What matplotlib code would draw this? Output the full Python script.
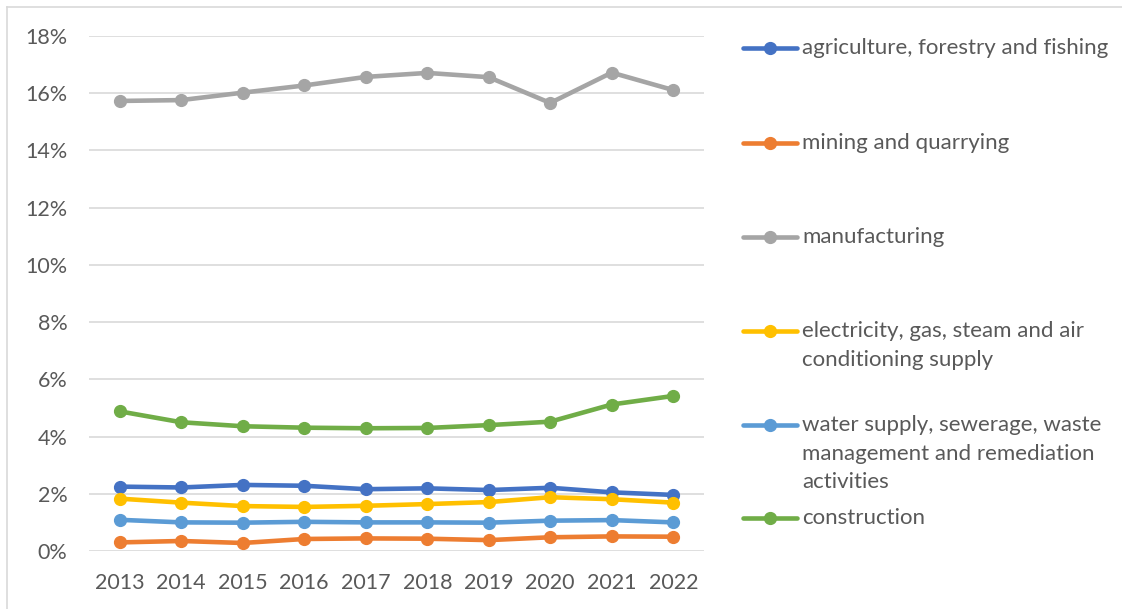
import matplotlib
matplotlib.use("Agg")
import matplotlib.pyplot as plt
from matplotlib.lines import Line2D
from matplotlib.ticker import FuncFormatter, MultipleLocator

years = ["2013", "2014", "2015", "2016", "2017", "2018", "2019", "2020", "2021", "2022"]

agriculture = [2.25, 2.22, 2.31, 2.28, 2.16, 2.19, 2.13, 2.21, 2.05, 1.96]
mining = [0.30, 0.35, 0.28, 0.42, 0.44, 0.43, 0.38, 0.48, 0.51, 0.50]
manufacturing = [15.73, 15.76, 16.02, 16.27, 16.57, 16.71, 16.56, 15.66, 16.72, 16.11]
electricity = [1.83, 1.69, 1.57, 1.54, 1.58, 1.64, 1.71, 1.88, 1.81, 1.69]
water = [1.09, 1.00, 0.99, 1.02, 1.00, 1.00, 0.99, 1.06, 1.08, 1.00]
construction = [4.88, 4.50, 4.36, 4.31, 4.29, 4.30, 4.40, 4.52, 5.12, 5.42]

series_labels = [
    "agriculture, forestry and fishing",
    "mining and quarrying",
    "manufacturing",
    "electricity, gas, steam and air\nconditioning supply",
    "water supply, sewerage, waste\nmanagement and remediation\nactivities",
    "construction",
]
series_values = [agriculture, mining, manufacturing, electricity, water, construction]
colors = ["#4472C4", "#ED7D31", "#A5A5A5", "#FFC000", "#5B9BD5", "#70AD47"]

W, H = 1122, 609
fig = plt.figure(figsize=(W / 100, H / 100), dpi=100)
fig.patch.set_facecolor("white")

FONT = "Lato"
TXT = "#595959"

ax = fig.add_axes([89 / W, 1 - 551 / H, (704 - 89) / W, (551 - 36) / H])
x = list(range(len(years)))
for vals, c in zip(series_values, colors):
    ax.plot(x, vals, color=c, lw=3.3, marker="o", markersize=8.5,
            solid_capstyle="round", zorder=3)

ax.set_xlim(-0.5, len(years) - 0.5)
ax.set_ylim(0, 18)
ax.yaxis.set_major_locator(MultipleLocator(2))
ax.yaxis.set_major_formatter(FuncFormatter(lambda v, p: f"{v:.0f}%"))
ax.set_xticks(x)
ax.set_xticklabels(years)
for s in ax.spines.values():
    s.set_visible(False)
ax.grid(axis="y", color="#D9D9D9", lw=1.2, zorder=0)
ax.tick_params(axis="both", length=0, labelsize=15.5, colors=TXT)
ax.tick_params(axis="y", pad=15.5)
ax.tick_params(axis="x", pad=15.5)
for lab in ax.get_xticklabels() + ax.get_yticklabels():
    lab.set_fontfamily(FONT)

# chart-area border (left and top edges visible)
fig.add_artist(Line2D([7 / W, 7 / W], [0, 1 - 7 / H], transform=fig.transFigure,
                      color="#D9D9D9", lw=1.2))
fig.add_artist(Line2D([7 / W, 1], [1 - 7 / H, 1 - 7 / H], transform=fig.transFigure,
                      color="#D9D9D9", lw=1.2))

# legend (manual, Excel-style spacing)
legend_y = [48, 143, 237, 331, 425, 518]
line_step = 28.5
for lab, c, yy in zip(series_labels, colors, legend_y):
    fy = 1 - yy / H
    fig.add_artist(Line2D([743 / W, 797 / W], [fy, fy], transform=fig.transFigure,
                          color=c, lw=3.3, solid_capstyle="round"))
    fig.add_artist(Line2D([770 / W], [fy], transform=fig.transFigure, color=c,
                          marker="o", markersize=8.5, lw=0))
    for i, part in enumerate(lab.split("\n")):
        fig.text(802 / W, 1 - (yy + i * line_step) / H, part, fontsize=16,
                 family=FONT, color=TXT, va="center", ha="left")

fig.savefig("out.png", dpi=100, facecolor="white")
